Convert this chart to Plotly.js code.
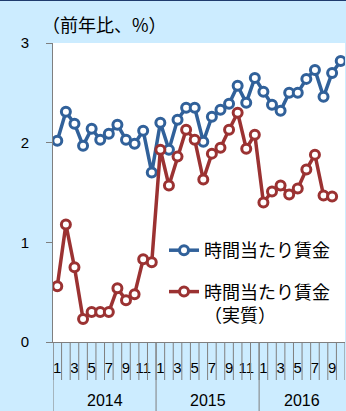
<!DOCTYPE html>
<html><head><meta charset="utf-8">
<script src="https://cdn.plot.ly/plotly-3.0.1.min.js"></script>
<style>
html,body{margin:0;padding:0;background:#ccecff;}
#wrap{position:relative;width:346px;height:411px;}
#topline{position:absolute;left:0;top:0;width:346px;height:1px;background:#1f3b6e;z-index:10;}
#chart{width:346px;height:411px;}
</style></head>
<body><div id="wrap"><div id="topline"></div><div id="chart"></div></div>
<script>
const years = ['2014', '2015', '2016'];
const monthsPerYear = [12, 12, 10];
const seriesNames = ['時間当たり賃金', '時間当たり賃金<br>（実質）'];
const hourlyWage = [2.02, 2.31, 2.19, 1.97, 2.14, 2.03, 2.09, 2.18, 2.03, 1.99, 2.12, 1.70,
                    2.20, 1.93, 2.23, 2.35, 2.35, 2.01, 2.26, 2.33, 2.39, 2.57, 2.40, 2.65,
                    2.51, 2.38, 2.32, 2.50, 2.50, 2.64, 2.73, 2.46, 2.70, 2.82];
const hourlyWageReal = [0.56, 1.18, 0.75, 0.23, 0.30, 0.30, 0.30, 0.54, 0.42, 0.48, 0.83, 0.80,
                        1.93, 1.57, 1.86, 2.13, 2.03, 1.63, 1.89, 1.95, 2.13, 2.30, 1.94, 2.08,
                        1.40, 1.51, 1.57, 1.48, 1.54, 1.73, 1.88, 1.47, 1.46, null];
const yTicks = [0, 1, 2, 3];

// build category index and month labels
const xIdx = [], monthNum = [];
let k = 0;
monthsPerYear.forEach(n => { for (let m = 1; m <= n; m++) { xIdx.push(k++); monthNum.push(m); } });
const N = xIdx.length;
const tickVals = [], tickText = [];
xIdx.forEach((x, i) => { if (monthNum[i] % 2 === 1) { tickVals.push(x); tickText.push(String(monthNum[i])); } });

const H = 411, mt = 43, mb = 69, ml = 53, mr = 1;
const ph = H - mt - mb;
const shapes = [];
for (let i = 0; i <= N; i++) {
  shapes.push({type: 'line', xref: 'x', yref: 'paper', x0: i - 0.5, x1: i - 0.5, y0: 0, y1: -38 / ph,
               line: {color: '#7f7f7f', width: 1}});
}
const annotations = [];
let start = 0;
years.forEach((y, j) => {
  shapes.push({type: 'line', xref: 'x', yref: 'paper', x0: start - 0.5, x1: start - 0.5, y0: 0, y1: -mb / ph,
               line: {color: '#7f7f7f', width: 1}});
  annotations.push({text: y, xref: 'x', yref: 'paper', x: start + monthsPerYear[j] / 2 - 0.5, y: -58 / ph,
                    xanchor: 'center', yanchor: 'middle', showarrow: false,
                    font: {family: 'Liberation Sans, Arial, sans-serif', size: 16, color: '#000'}});
  start += monthsPerYear[j];
});
annotations.push({text: '（前年比、%）', xref: 'paper', yref: 'paper', x: -13 / 292, y: 1 + 19 / ph,
                  xanchor: 'left', yanchor: 'middle', showarrow: false,
                  font: {family: 'Noto Sans CJK JP, sans-serif', size: 18, color: '#000'}});

const mk = (name, y, color) => ({
  type: 'scatter', mode: 'lines+markers', name: name, x: xIdx, y: y, legendgroup: name,
  line: {color: color, width: 3.5},
  marker: {symbol: 'circle', size: 9, color: '#ffffff', line: {color: color, width: 3}},
  connectgaps: false
});

const data = [mk(seriesNames[0], hourlyWage, '#31619a'), mk(seriesNames[1], hourlyWageReal, '#9b3232')];

const layout = {
  width: 346, height: H,
  margin: {l: ml, r: mr, t: mt, b: mb, pad: 0},
  paper_bgcolor: '#ccecff', plot_bgcolor: '#ffffff',
  showlegend: true,
  legend: {x: (164 - ml) / 292, y: 1 - (232 - mt) / ph, xanchor: 'left', yanchor: 'top',
           bgcolor: 'rgba(0,0,0,0)', traceorder: 'grouped', tracegroupgap: 15, valign: 'top',
           font: {family: 'Noto Sans CJK JP, sans-serif', size: 18, color: '#000'}},
  xaxis: {range: [-0.5, N - 0.5], tickvals: tickVals, ticktext: tickText, ticks: '',
          ticklabelstandoff: 12,
          showgrid: false, zeroline: false, showline: true, linecolor: '#7f7f7f', linewidth: 1,
          tickfont: {family: 'Liberation Sans Narrow, Arial Narrow, sans-serif', size: 15, color: '#000'},
          fixedrange: true},
  yaxis: {range: [0, 3], tickvals: yTicks, ticks: 'outside', ticklen: 6, tickcolor: '#7f7f7f',
          ticklabelstandoff: 14,
          showgrid: false, zeroline: false, showline: true, linecolor: '#7f7f7f', linewidth: 1,
          tickfont: {family: 'Liberation Sans, Arial, sans-serif', size: 15, color: '#000'},
          fixedrange: true},
  shapes: shapes,
  annotations: annotations
};
Plotly.newPlot('chart', data, layout, {displayModeBar: false, staticPlot: true});
</script></body></html>
